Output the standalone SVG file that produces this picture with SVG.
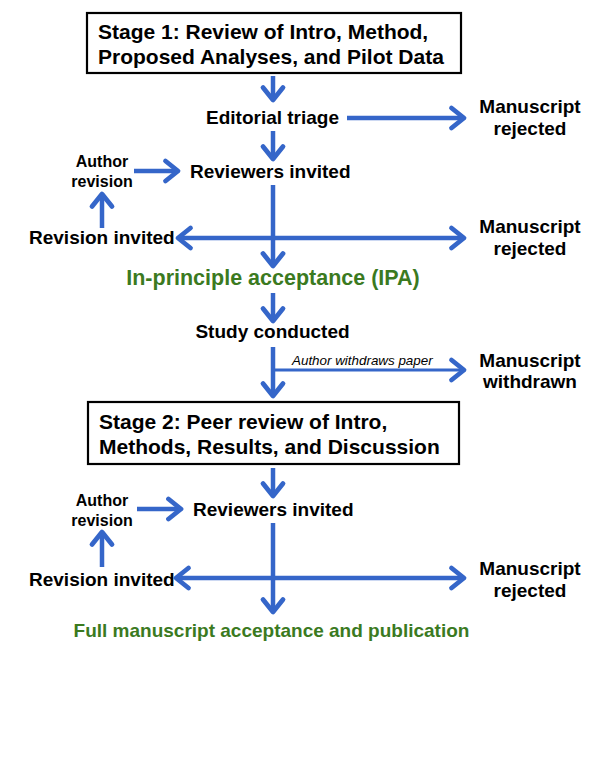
<svg xmlns="http://www.w3.org/2000/svg" width="600" height="759" viewBox="0 0 600 759">
<style>
.t{font-family:"Liberation Sans",Arial,sans-serif;font-weight:bold;font-size:19px;fill:#000}
.s{font-size:16px}
.box{fill:#fff;stroke:#000;stroke-width:2.2}
.bt{font-size:21px}
.g{fill:#3b7a1f}
.ipa{font-size:21.5px}
.c{stroke:#3566c9;stroke-width:4.5;fill:none}
.thin{stroke-width:3}
.it{font-family:"Liberation Sans",Arial,sans-serif;font-style:italic;font-size:13.4px;fill:#000}
</style>
<defs>
<marker id="ah" markerUnits="userSpaceOnUse" viewBox="-16 -12 20 24" refX="0" refY="0" markerWidth="20" markerHeight="24" orient="auto-start-reverse" overflow="visible">
<path d="M-12.5,-10 L0,0 L-12.5,10" fill="none" stroke="#3566c9" stroke-width="4.8" stroke-linecap="round" stroke-linejoin="round"/>
</marker>
</defs>
<rect width="600" height="759" fill="#fff"/>
<g id="connectors">
<path class="c" d="M273,76 V100" marker-end="url(#ah)"/>
<path class="c" d="M347,118 H464" marker-end="url(#ah)"/>
<path class="c" d="M273,131 V159" marker-end="url(#ah)"/>
<path class="c" d="M134,171 H178" marker-end="url(#ah)"/>
<path class="c" d="M102,228 V194" marker-end="url(#ah)"/>
<path class="c" d="M273,185 V266" marker-end="url(#ah)"/>
<path class="c" d="M178,238 H464" marker-start="url(#ah)" marker-end="url(#ah)"/>
<path class="c" d="M273,293 V321" marker-end="url(#ah)"/>
<path class="c" d="M273,347 V396" marker-end="url(#ah)"/>
<path class="c thin" d="M273,370 H464" marker-end="url(#ah)"/>
<path class="c" d="M273,468 V496" marker-end="url(#ah)"/>
<path class="c" d="M137,509 H181" marker-end="url(#ah)"/>
<path class="c" d="M102,567 V532" marker-end="url(#ah)"/>
<path class="c" d="M273,523 V612" marker-end="url(#ah)"/>
<path class="c" d="M176,578 H464" marker-start="url(#ah)" marker-end="url(#ah)"/>
<text class="it" x="292" y="365">Author withdraws paper</text>
</g>
<g id="stage1">
<rect class="box" x="87" y="13" width="374" height="60"/>
<text class="t bt" x="98" y="39">Stage 1: Review of Intro, Method,</text>
<text class="t bt" x="98" y="64">Proposed Analyses, and Pilot Data</text>
</g>
<g id="triage"><text class="t" x="206" y="124">Editorial triage</text></g>
<g id="rejected1"><text class="t" x="530" y="113" text-anchor="middle">Manuscript</text><text class="t" x="530" y="135" text-anchor="middle">rejected</text></g>
<g id="reviewers1"><text class="t" x="190" y="178">Reviewers invited</text></g>
<g id="author1"><text class="t s" x="102" y="167" text-anchor="middle">Author</text><text class="t s" x="102" y="187" text-anchor="middle">revision</text></g>
<g id="revision1"><text class="t" x="29" y="244">Revision invited</text></g>
<g id="rejected2"><text class="t" x="530" y="233" text-anchor="middle">Manuscript</text><text class="t" x="530" y="255" text-anchor="middle">rejected</text></g>
<g id="ipa"><text class="t g ipa" x="273" y="285" text-anchor="middle">In-principle acceptance (IPA)</text></g>
<g id="study"><text class="t" x="272.5" y="338" text-anchor="middle">Study conducted</text></g>
<g id="withdrawn"><text class="t" x="530" y="367" text-anchor="middle">Manuscript</text><text class="t" x="530" y="388" text-anchor="middle">withdrawn</text></g>
<g id="stage2">
<rect class="box" x="88" y="402" width="371" height="62"/>
<text class="t bt" x="99" y="429">Stage 2: Peer review of Intro,</text>
<text class="t bt" x="99" y="454">Methods, Results, and Discussion</text>
</g>
<g id="reviewers2"><text class="t" x="193" y="516">Reviewers invited</text></g>
<g id="author2"><text class="t s" x="102" y="506" text-anchor="middle">Author</text><text class="t s" x="102" y="526" text-anchor="middle">revision</text></g>
<g id="revision2"><text class="t" x="29" y="586">Revision invited</text></g>
<g id="rejected3"><text class="t" x="530" y="575" text-anchor="middle">Manuscript</text><text class="t" x="530" y="597" text-anchor="middle">rejected</text></g>
<g id="full"><text class="t g" x="271.5" y="637" text-anchor="middle">Full manuscript acceptance and publication</text></g>
</svg>
